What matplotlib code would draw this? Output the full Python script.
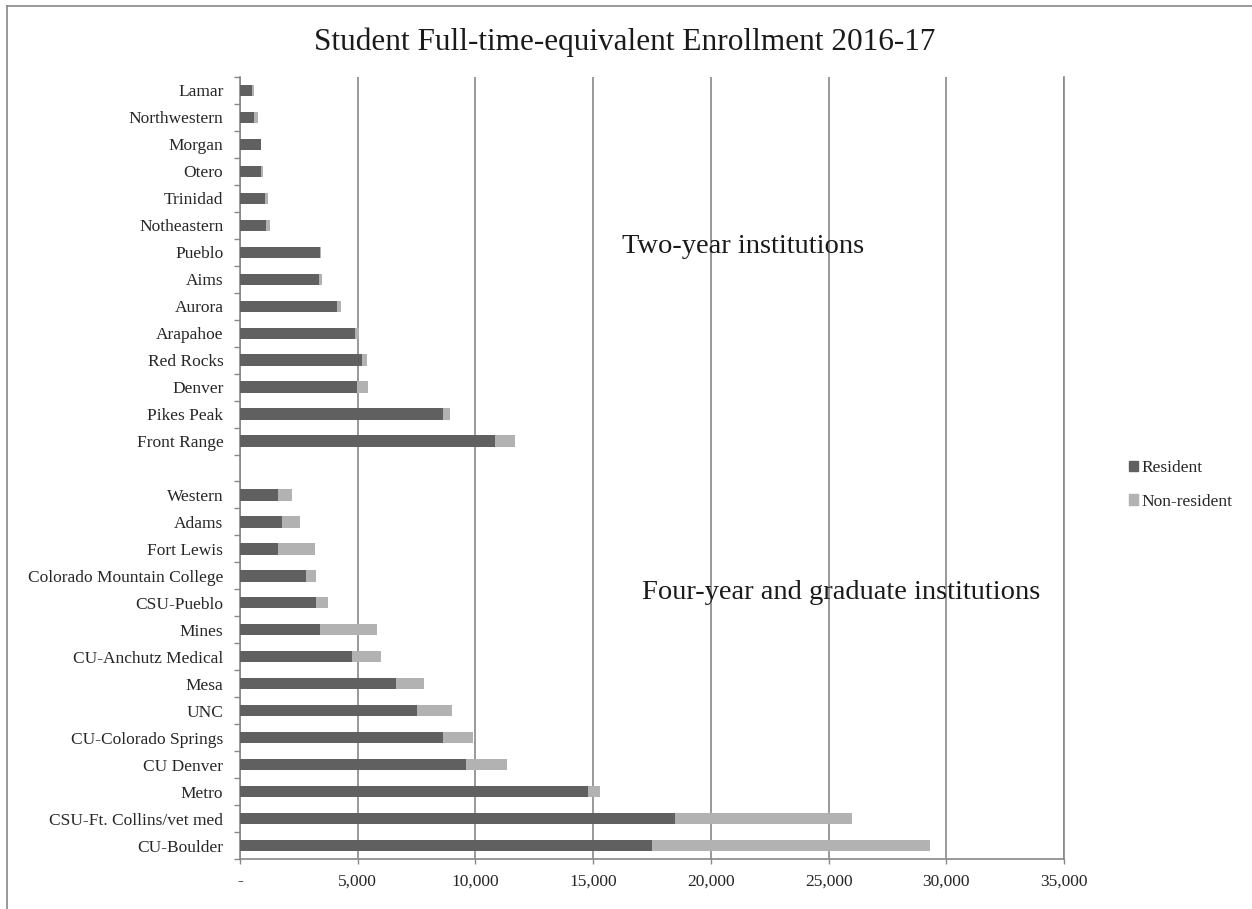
import numpy as np
import matplotlib
matplotlib.use('Agg')
import matplotlib.pyplot as plt
from matplotlib.ticker import FuncFormatter, MultipleLocator
from matplotlib.patches import Patch
from matplotlib.lines import Line2D

# === DATEN (von unten nach oben) ===
vierjahr_namen = ['CU-Boulder', 'CSU-Ft. Collins/vet med', 'Metro', 'CU Denver',
                  'CU-Colorado Springs', 'UNC', 'Mesa', 'CU-Anchutz Medical', 'Mines',
                  'CSU-Pueblo', 'Colorado Mountain College', 'Fort Lewis', 'Adams', 'Western']
vierjahr_resident = [17490, 18480, 14775, 9620, 8605, 7530, 6605, 4760, 3410,
                     3225, 2815, 1635, 1805, 1635]
vierjahr_nonres = [11800, 7530, 525, 1700, 1305, 1455, 1230, 1210, 2410,
                   500, 395, 1530, 740, 575]

zweijahr_namen = ['Front Range', 'Pikes Peak', 'Denver', 'Red Rocks', 'Arapahoe',
                  'Aurora', 'Aims', 'Pueblo', 'Notheastern', 'Trinidad', 'Otero',
                  'Morgan', 'Northwestern', 'Lamar']
zweijahr_resident = [10835, 8615, 4985, 5165, 4895, 4120, 3345, 3405, 1095,
                     1065, 910, 880, 580, 500]
zweijahr_nonres = [850, 305, 455, 215, 180, 180, 120, 30, 180, 120, 75, 30, 195, 95]

TITEL = 'Student Full-time-equivalent Enrollment 2016-17'
# ===================================

FARBE_RES = '#606060'
FARBE_NONRES = '#b2b2b2'
GRAU = '#888888'
TEXTFARBE = '#262626'

plt.rcParams['font.family'] = ['Liberation Serif', 'DejaVu Serif']

namen = vierjahr_namen + [''] + zweijahr_namen
resident = vierjahr_resident + [0] + zweijahr_resident
nonres = vierjahr_nonres + [0] + zweijahr_nonres
pos = np.concatenate([np.arange(len(vierjahr_namen)),
                      [len(vierjahr_namen)],
                      np.arange(len(zweijahr_namen)) + len(vierjahr_namen) + 1])
hat_balken = np.array([n != '' for n in namen])

W, H = 1252, 909
fig = plt.figure(figsize=(W / 100, H / 100), dpi=100)
ax = fig.add_axes([240 / W, 1 - 859 / H, (1064 - 240) / W, (859 - 77) / H])

ax.barh(pos[hat_balken], np.array(resident)[hat_balken], height=0.42,
        color=FARBE_RES, label='Resident', zorder=3)
ax.barh(pos[hat_balken], np.array(nonres)[hat_balken], height=0.42,
        left=np.array(resident)[hat_balken], color=FARBE_NONRES,
        label='Non-resident', zorder=3)

ax.set_xlim(0, 35000)
ax.set_ylim(-0.5, len(namen) - 0.5)

ax.xaxis.set_major_locator(MultipleLocator(5000))
ax.xaxis.set_major_formatter(FuncFormatter(lambda v, p: '-' if v == 0 else f'{v:,.0f}'))
ax.grid(axis='x', color=GRAU, linewidth=1.2, zorder=0)
ax.grid(axis='y', visible=False)

ax.set_yticks(pos)
ax.set_yticklabels(namen)
ax.set_yticks(np.arange(-0.5, len(namen), 1.0), minor=True)
ax.tick_params(axis='y', which='major', length=0, pad=12, labelsize=12.5, labelcolor=TEXTFARBE)
ax.tick_params(axis='y', which='minor', length=4, width=1.0, color=GRAU, direction='out')
ax.tick_params(axis='x', which='major', length=3.5, width=1.0, color=GRAU, pad=7,
               labelsize=12.5, labelcolor=TEXTFARBE)

ax.spines['top'].set_visible(False)
for seite in ['left', 'bottom', 'right']:
    ax.spines[seite].set_color(GRAU)
    ax.spines[seite].set_linewidth(1.2)

ax.text(21350, 22.2, 'Two-year institutions', ha='center', va='center',
        fontsize=20.5, color='#1a1a1a', zorder=4)
ax.text(25530, 9.4, 'Four-year and graduate institutions', ha='center', va='center',
        fontsize=20.5, color='#1a1a1a', zorder=4)

fig.text(625 / W, 1 - 42 / H, TITEL, ha='center', va='center', fontsize=22.5, color='#1a1a1a')

handles = [Patch(color=FARBE_RES), Patch(color=FARBE_NONRES)]
fig.legend(handles, ['Resident', 'Non-resident'], loc='center left',
           bbox_to_anchor=(1113 / W, 1 - 485 / H), frameon=False, fontsize=12.5,
           handlelength=0.55, handleheight=0.55, handletextpad=0.2, labelspacing=1.0,
           labelcolor=TEXTFARBE)

# Rahmen (nur links und oben sichtbar)
fig.add_artist(Line2D([7 / W, 7 / W], [0, 1 - 6 / H], color=GRAU, linewidth=1.2))
fig.add_artist(Line2D([7 / W, 1], [1 - 6 / H, 1 - 6 / H], color=GRAU, linewidth=1.2))

fig.savefig('out.png', dpi=100)
